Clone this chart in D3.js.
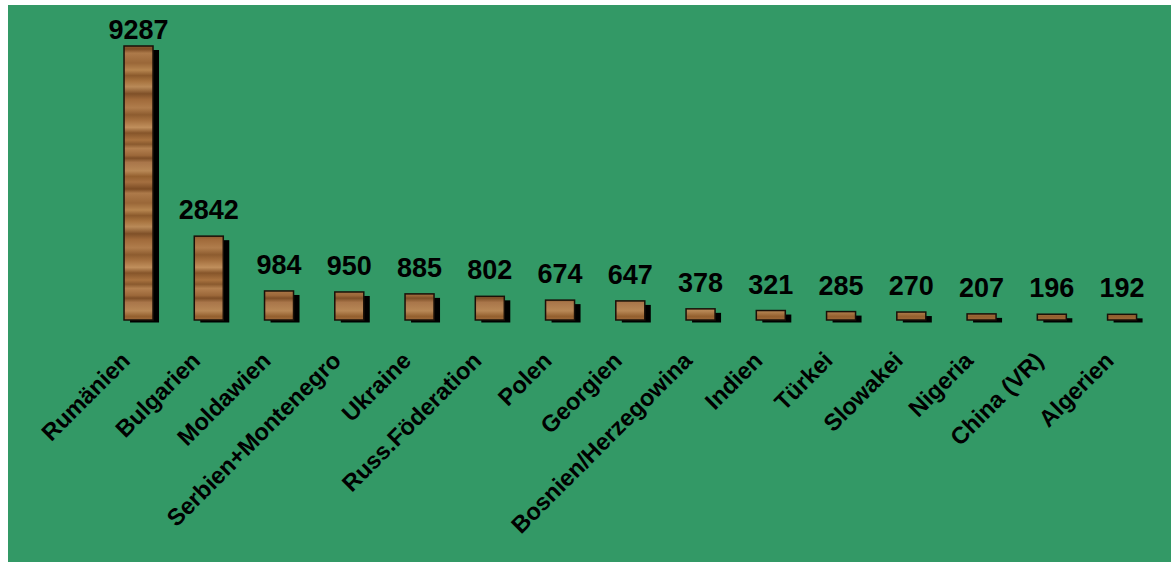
<!DOCTYPE html>
<html><head><meta charset="utf-8">
<script src="https://cdn.jsdelivr.net/npm/d3@7"></script>
<style>html,body{margin:0;padding:0;background:#fff;}svg{display:block;}</style>
</head><body>
<script>
const categories = ["Rumänien","Bulgarien","Moldawien","Serbien+Montenegro","Ukraine","Russ.Föderation","Polen","Georgien","Bosnien/Herzegowina","Indien","Türkei","Slowakei","Nigeria","China (VR)","Algerien"];
const values = [9287,2842,984,950,885,802,674,647,378,321,285,270,207,196,192];

const W = 1171, H = 562;
const svg = d3.select("body").append("svg").attr("width", W).attr("height", H);

// wood texture
const defs = svg.append("defs");
const grad = defs.append("linearGradient").attr("id","woodGrad").attr("x1",0).attr("y1",0).attr("x2",0).attr("y2",1);
const woodStops = [
  [0,"#a8723f"],[0.03,"#8a5a2e"],[0.06,"#b3804f"],[0.11,"#9c683a"],[0.13,"#7e4f27"],[0.16,"#a9764a"],
  [0.22,"#b88856"],[0.26,"#94602f"],[0.3,"#a46f40"],[0.35,"#7c4c24"],[0.38,"#ad7a4a"],[0.45,"#9a6738"],
  [0.5,"#b6854f"],[0.54,"#8b5a2c"],[0.58,"#a7733f"],[0.62,"#b98a58"],[0.67,"#7f5028"],[0.71,"#a06a3a"],
  [0.77,"#b07d4c"],[0.82,"#8d5c2f"],[0.86,"#a5703f"],[0.91,"#c08f5c"],[0.95,"#86552a"],[1,"#a8723f"]
];
woodStops.forEach(s => grad.append("stop").attr("offset", s[0]).attr("stop-color", s[1]));
const pat = defs.append("pattern").attr("id","wood").attr("patternUnits","userSpaceOnUse")
  .attr("width",40).attr("height",140);
pat.append("rect").attr("width",40).attr("height",140).attr("fill","url(#woodGrad)");

// background
svg.append("rect").attr("x",8).attr("y",5).attr("width",W-8).attr("height",H-5).attr("fill","#339966");

const baseline = 320;
const x = d3.scaleBand().domain(categories).range([103.4, 1157.2]).paddingInner(0.5872).paddingOuter(0.2936);
const y = d3.scaleLinear().domain([0, 9287]).range([baseline, 46]);

const g = svg.append("g");
// shadows
g.selectAll("rect.shadow").data(values).join("rect").attr("class","shadow")
  .attr("x",(d,i)=>x(categories[i])+6).attr("y",d=>y(d)+4)
  .attr("width",x.bandwidth()).attr("height",d=>baseline+2.5-(y(d)+4))
  .attr("fill","#000");
// bars
g.selectAll("rect.bar").data(values).join("rect").attr("class","bar")
  .attr("x",(d,i)=>x(categories[i])).attr("y",d=>y(d))
  .attr("width",x.bandwidth()).attr("height",d=>baseline-y(d))
  .attr("fill","url(#wood)").attr("stroke","#1a1008").attr("stroke-width",1.5);

// value labels
g.selectAll("text.val").data(values).join("text").attr("class","val")
  .attr("x",(d,i)=>x(categories[i])+x.bandwidth()/2)
  .attr("y",d=>Math.max(y(d)-17, 39))
  .attr("text-anchor","middle")
  .attr("font-family","'Liberation Sans', Arial, sans-serif").attr("font-weight","bold")
  .attr("font-size",27).attr("fill","#000")
  .text(d=>d);

// category labels
const xAxis = d3.axisBottom(x).tickSize(0).tickPadding(0);
const ax = svg.append("g").attr("transform",`translate(0,${baseline})`).call(xAxis);
ax.select(".domain").remove();
ax.selectAll("text")
  .attr("font-family","'Liberation Sans', Arial, sans-serif").attr("font-weight","bold")
  .attr("font-size",23.5).attr("fill","#000")
  .attr("text-anchor","end")
  .attr("dy",null)
  .attr("transform","translate(-7,42) rotate(-45)")
  .attr("y",0).attr("x",0);
</script>
</body></html>
